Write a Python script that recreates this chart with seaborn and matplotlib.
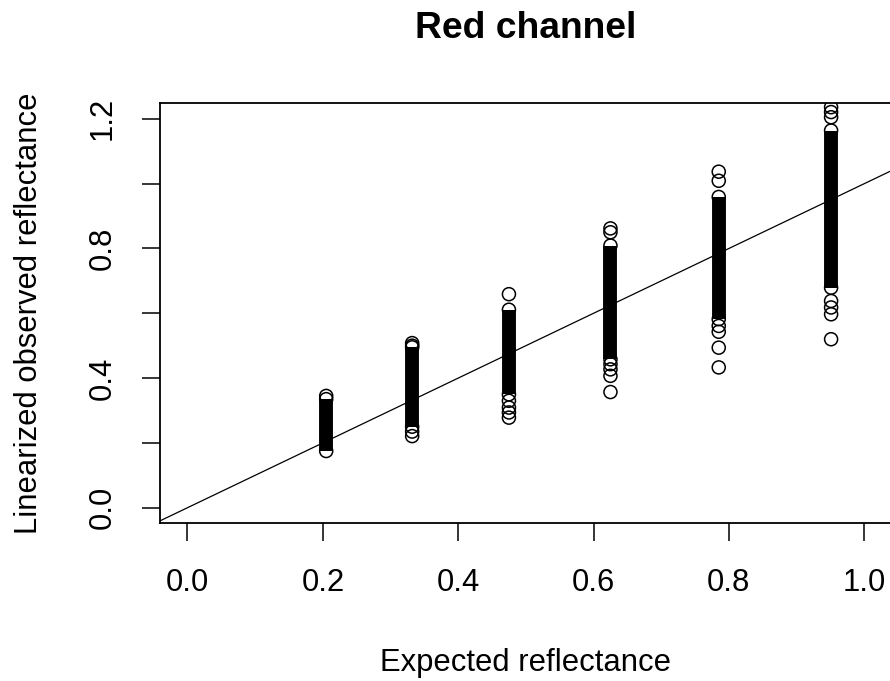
import numpy as np
import pandas as pd
import matplotlib
matplotlib.use('Agg')
import matplotlib.pyplot as plt
import seaborn as sns

# Expected reflectance of each grey patch
x_levels = [0.205, 0.332, 0.475, 0.625, 0.785, 0.951]

# Dense part of each column (where the circles overlap into a solid bar)
band_lo = [0.175, 0.250, 0.350, 0.458, 0.582, 0.679]
band_hi = [0.335, 0.495, 0.611, 0.809, 0.959, 1.164]

# Loose points above / below each dense bar
loose_pts = [
    [0.345],
    [0.508, 0.500, 0.235, 0.221],
    [0.659, 0.330, 0.309, 0.294, 0.278],
    [0.862, 0.850, 0.443, 0.427, 0.407, 0.357],
    [1.037, 1.009, 0.561, 0.543, 0.494, 0.433],
    [1.236, 1.221, 1.205, 0.638, 0.618, 0.597, 0.520],
]

# reference line y = a + b*x
line_a = 0.0
line_b = 1.0

x_ticks = [0.0, 0.2, 0.4, 0.6, 0.8, 1.0]
x_tick_labels = ['0.0', '0.2', '0.4', '0.6', '0.8', '1.0']
y_ticks = [0.0, 0.2, 0.4, 0.6, 0.8, 1.0, 1.2]
y_tick_labels = ['0.0', '', '0.4', '', '0.8', '', '1.2']

sns.set_theme(style='ticks')
plt.rcParams['font.family'] = ['Liberation Sans', 'DejaVu Sans']
plt.rcParams['text.color'] = 'black'

# points table: ends of the bars plus the loose ones
rows = []
for x, lo, hi, pts in zip(x_levels, band_lo, band_hi, loose_pts):
    for y in [lo, hi] + pts:
        rows.append((x, y))
df = pd.DataFrame(rows, columns=['expected', 'observed'])

fig = plt.figure(figsize=(8.9, 6.81), dpi=100)
ax = fig.add_axes([0.1802, 0.2316, 0.8213, 0.6167])

# solid bars
ax.vlines(x_levels, band_lo, band_hi, color='black', lw=10, capstyle='butt')
sns.scatterplot(data=df, x='expected', y='observed', ax=ax, marker='o', s=88,
                facecolor='none', edgecolor='black', linewidth=1.1, zorder=3)
ax.axline((0, line_a), slope=line_b, color='black', lw=0.9)

ax.set_xlim(-0.04, 1.04)
ax.set_ylim(-0.048, 1.248)
ax.set_xticks(x_ticks, labels=x_tick_labels)
ax.set_yticks(y_ticks, labels=y_tick_labels)
plt.setp(ax.get_yticklabels(), rotation=90, va='center')

ax.tick_params(axis='both', length=13, width=1.1, color='black',
               labelsize=22.3, labelcolor='black')
ax.tick_params(axis='x', pad=19.5)
ax.tick_params(axis='y', pad=18)
for s in ax.spines.values():
    s.set_linewidth(1.3)
    s.set_color('black')

ax.set_xlabel('Expected reflectance', fontsize=22.3, color='black')
ax.xaxis.set_label_coords(0.5, -0.332)
ax.xaxis.label.set_va('center')
ax.set_ylabel('Linearized observed reflectance', fontsize=22.3, color='black')
ax.yaxis.set_label_coords(-0.18, 0.5)
ax.yaxis.label.set_va('center')

ax.set_title('Red channel', fontsize=26.8, fontweight='bold', y=1.155, pad=0,
             color='black')

fig.savefig('out.png', dpi=100)
